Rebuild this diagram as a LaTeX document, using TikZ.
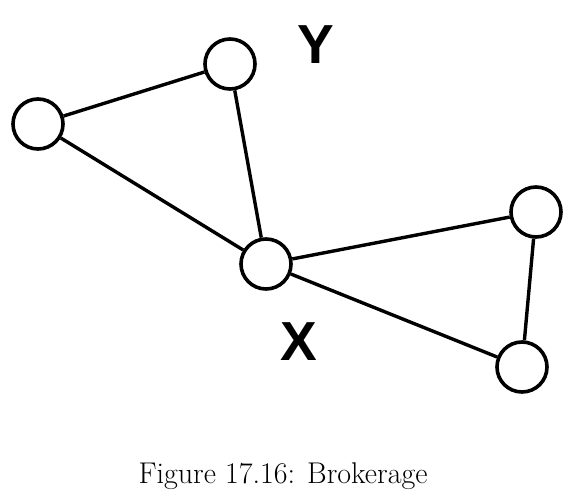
\documentclass[tikz,border=0pt]{standalone}
\usepackage{fontspec}
\newfontfamily\labfont{Liberation Sans}
\begin{document}
\begin{tikzpicture}[x=1pt,y=-1pt,
  vertex/.style={circle,draw=black,line width=3.6pt,minimum size=50pt,inner sep=0pt,fill=white},
  edge/.style={line width=3.4pt,black},
  lab/.style={font=\labfont\bfseries\fontsize{55}{60}\selectfont,inner sep=0pt},
  captext/.style={font=\fontsize{30}{36}\selectfont,inner sep=0pt,anchor=base}]
\useasboundingbox (0,0) rectangle (576,501);
\node[vertex] (a) at (38,124) {};
\node[vertex] (y) at (230,64) {};
\node[vertex] (x) at (266,264) {};
\node[vertex] (b) at (536,212) {};
\node[vertex] (c) at (522,367) {};
\draw[edge] (a) -- (y);
\draw[edge] (a) -- (x);
\draw[edge] (y) -- (x);
\draw[edge] (x) -- (b);
\draw[edge] (x) -- (c);
\draw[edge] (b) -- (c);
\node[lab] (ly) at (316,45) {Y};
\node[lab] (lx) at (299,342) {X};
\node[captext] (caption) at (283,483) {Figure 17.16: Brokerage};
\end{tikzpicture}
\end{document}
